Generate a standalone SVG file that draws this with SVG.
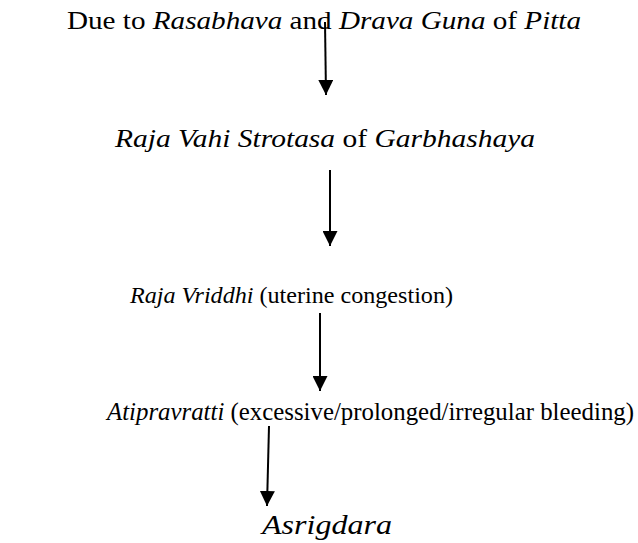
<svg xmlns="http://www.w3.org/2000/svg" width="638" height="543" viewBox="0 0 638 543">
<defs>
<marker id="ah" viewBox="0 0 10 10" refX="10" refY="5" markerWidth="15" markerHeight="15" markerUnits="userSpaceOnUse" orient="auto">
<path d="M0,0 L10,5 L0,10 Z" fill="#000"/>
</marker>
<style>
text{font-family:"Liberation Serif","Times New Roman",serif;fill:#000}
.i{font-style:italic}
.c line{stroke:#000;stroke-width:2;marker-end:url(#ah)}
</style>
</defs>
<rect width="638" height="543" fill="#fff"/>
<g id="n1"><text x="67" y="29" font-size="25" textLength="514" lengthAdjust="spacingAndGlyphs">Due to <tspan class="i">Rasabhava</tspan> and <tspan class="i">Drava Guna</tspan> of <tspan class="i">Pitta</tspan></text></g>
<g id="n2"><text x="115" y="147" font-size="26" textLength="420" lengthAdjust="spacingAndGlyphs"><tspan class="i">Raja Vahi Strotasa</tspan> of <tspan class="i">Garbhashaya</tspan></text></g>
<g id="n3"><text x="130" y="303" font-size="24" textLength="323" lengthAdjust="spacingAndGlyphs"><tspan class="i">Raja Vriddhi</tspan> (uterine congestion)</text></g>
<g id="n4"><text x="107" y="420" font-size="25" textLength="527" lengthAdjust="spacingAndGlyphs"><tspan class="i">Atipravratti</tspan> (excessive/prolonged/irregular bleeding)</text></g>
<g id="n5"><text x="262" y="534" font-size="28" class="i" textLength="130" lengthAdjust="spacingAndGlyphs">Asrigdara</text></g>
<g class="c" id="connectors">
<line x1="325" y1="22" x2="326" y2="95"/>
<line x1="330" y1="170" x2="330" y2="246"/>
<line x1="320" y1="313" x2="320" y2="391"/>
<line x1="269" y1="426" x2="267" y2="506"/>
</g>
</svg>
